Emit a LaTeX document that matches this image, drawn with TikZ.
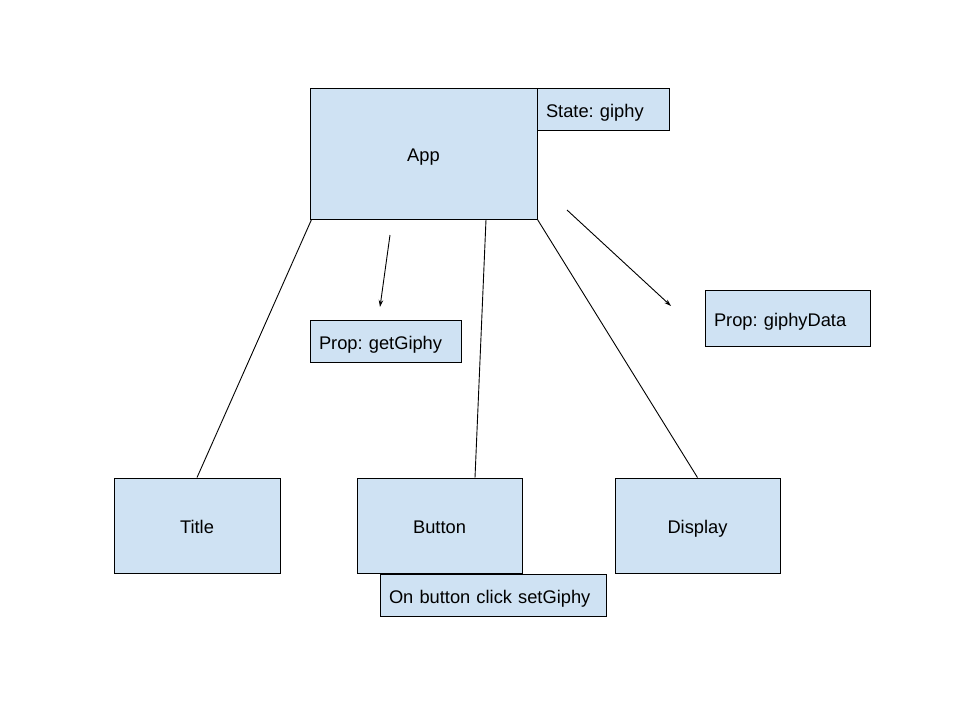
\documentclass[tikz,border=0pt]{standalone}
\usepackage{fontspec}
\setmainfont{Liberation Sans}
\usetikzlibrary{arrows.meta}
\definecolor{boxblue}{HTML}{CFE2F3}
\frenchspacing
\begin{document}
\begin{tikzpicture}[x=1pt,y=-1pt,
  box/.style={draw=black,fill=boxblue,line width=0.9pt,inner sep=0pt,
    text height=16pt,text depth=0pt,
    font=\fontsize{18.3}{21}\selectfont},
  lbox/.style={box,align=left,inner xsep=9pt,inner ysep=0pt},
  link/.style={draw=black,line width=0.9pt},
  arr/.style={link,-{Stealth[length=7pt,width=4.5pt]}}]
\useasboundingbox (0,0) rectangle (960,720);
\node[box,minimum width=227pt,minimum height=131pt] (app) at (423.5,153.5) {App};
\node[lbox,text width=114pt,minimum height=42pt] (state) at (603,109) {State: giphy};
\node[lbox,text width=133pt,minimum height=42pt] (getg) at (385.5,341) {Prop: getGiphy};
\node[lbox,text width=147pt,minimum height=56pt] (gdata) at (787.5,318) {Prop: giphyData};
\node[box,minimum width=166pt,minimum height=95pt] (title) at (197,525.5) {Title};
\node[box,minimum width=165pt,minimum height=95pt] (button) at (439.5,525.5) {Button};
\node[box,minimum width=165pt,minimum height=95pt] (display) at (697.5,525.5) {Display};
\node[lbox,text width=208pt,minimum height=42pt] (click) at (493,595) {On button click setGiphy};
\draw[link] ([xshift=2pt]app.south west) -- (title.north);
\draw[link] ([xshift=62.5pt]app.south) -- ([xshift=35.5pt]button.north);
\draw[link] (app.south east) -- (display.north);
\coordinate (a1s) at (390,235);
\coordinate (a1e) at (380,307);
\coordinate (a2s) at (567,210);
\coordinate (a2e) at (671,306);
\draw[arr] (a1s) -- (a1e);
\draw[arr] (a2s) -- (a2e);
\end{tikzpicture}
\end{document}
